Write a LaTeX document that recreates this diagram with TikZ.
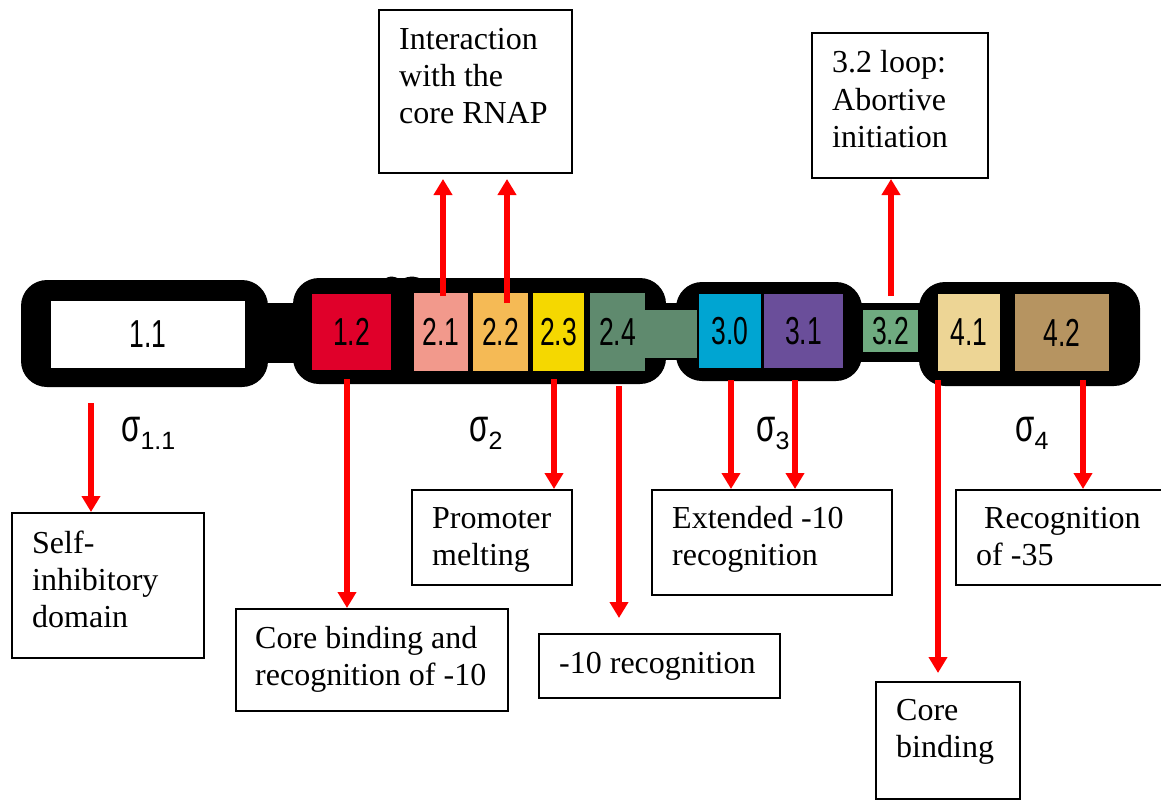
\documentclass[tikz,border=0pt]{standalone}
\usepackage{fontspec}
\usepackage{graphicx}
\setmainfont{Liberation Serif}
\newfontfamily\segfont{Liberation Sans}
\usetikzlibrary{arrows.meta,calc}

% region colours of the sigma factor
\definecolor{cOneTwo}{RGB}{224,0,42}
\definecolor{cTwoOne}{RGB}{242,153,140}
\definecolor{cTwoTwo}{RGB}{245,186,85}
\definecolor{cTwoThree}{RGB}{245,216,0}
\definecolor{cTwoFour}{RGB}{95,138,110}
\definecolor{cThreeZero}{RGB}{0,165,210}
\definecolor{cThreeOne}{RGB}{106,78,154}
\definecolor{cThreeTwo}{RGB}{111,171,128}
\definecolor{cFourOne}{RGB}{237,213,149}
\definecolor{cFourTwo}{RGB}{182,148,97}

% condensed sans label inside a region
\newcommand\seglabel[1]{\scalebox{0.68}[1]{\segfont\fontsize{39}{39}\selectfont #1}}
% sigma domain label with subscript
\newcommand\sigmalab[1]{{\segfont\fontsize{46}{46}\selectfont\scalebox{0.68}[1]{σ}}\raisebox{-8pt}{\segfont\fontsize{25}{25}\selectfont #1}}
% left-aligned stack of lines, baseline on the first line
\newcommand\boxlines[1]{\vtop{\halign{##\hfil\cr#1\crcr}}}

\tikzset{
  seg/.style={inner sep=0pt, outer sep=0pt},
  tbox/.style={draw=black, line width=2pt, anchor=north west, inner sep=0pt, fill=white},
  txt/.style={anchor=base west, inner sep=0pt, font=\fontsize{32}{37}\selectfont},
  redarrow/.style={draw=red, line width=6pt, -{Triangle[width=18pt,length=16pt]}},
}

\begin{document}
\begin{tikzpicture}[x=1pt,y=-1pt]
\useasboundingbox (0,0) rectangle (1161,800);
\clip (0,0) rectangle (1161,800);

% ---- backbone: four rounded domains joined by linkers ----
\fill[black, rounded corners=26pt] (21,280) rectangle (268,387);
\fill[black] (260,303) rectangle (300,363);
\fill[black, rounded corners=26pt] (293,278) rectangle (666,384);
\fill[black] (655,303) rectangle (690,360);
\fill[black, rounded corners=26pt] (676,282) rectangle (862,381);
\fill[black] (855,303) rectangle (925,362);
\fill[black, rounded corners=26pt] (919,282) rectangle (1140,386);
% small bump on top of domain 2
\fill[black] (381,284) .. controls (385,275) and (394,275) .. (401,280)
  .. controls (408,275) and (420,275) .. (427,284) -- cycle;
% linker of region 2.4 running into domain 3
\fill[cTwoFour] (645,310) rectangle (697,358);

% ---- regions ----
\node[seg, fill=white,      minimum width=194pt, minimum height=67pt] (s11) at (148,334.5) {\seglabel{1.1}};
\node[seg, fill=cOneTwo,    minimum width=79pt,  minimum height=76pt] (s12) at (351.5,332) {\seglabel{1.2}};
\node[seg, fill=cTwoOne,    minimum width=54pt,  minimum height=78pt] (s21) at (441,332) {\seglabel{2.1}};
\node[seg, fill=cTwoTwo,    minimum width=55pt,  minimum height=78pt] (s22) at (500.5,332) {\seglabel{2.2}};
\node[seg, fill=cTwoThree,  minimum width=51pt,  minimum height=78pt] (s23) at (558.5,332) {\seglabel{2.3}};
\node[seg, fill=cTwoFour,   minimum width=55pt,  minimum height=78pt] (s24) at (617.5,332) {\seglabel{2.4}};
\node[seg, fill=cThreeZero, minimum width=62pt,  minimum height=74pt] (s30) at (730,331) {\seglabel{3.0}};
\node[seg, fill=cThreeOne,  minimum width=79pt,  minimum height=74pt] (s31) at (803.5,331) {\seglabel{3.1}};
\node[seg, fill=cThreeTwo,  minimum width=55pt,  minimum height=42pt] (s32) at (890.5,331) {\seglabel{3.2}};
\node[seg, fill=cFourOne,   minimum width=62pt,  minimum height=77pt] (s41) at (969,332.5) {\seglabel{4.1}};
\node[seg, fill=cFourTwo,   minimum width=94pt,  minimum height=77pt] (s42) at (1062,332.5) {\seglabel{4.2}};

% ---- domain names ----
\node[anchor=base west, inner sep=0pt] (g11) at (121,441) {\sigmalab{1.1}};
\node[anchor=base west, inner sep=0pt] (g2)  at (469,441) {\sigmalab{2}};
\node[anchor=base west, inner sep=0pt] (g3)  at (756,441) {\sigmalab{3}};
\node[anchor=base west, inner sep=0pt] (g4)  at (1015,441) {\sigmalab{4}};

% ---- function boxes ----
\node[tbox, minimum width=193pt, minimum height=163pt] (bInter) at (378,9) {};
\node[tbox, minimum width=176pt, minimum height=145pt] (bLoop) at (811,32) {};
\node[tbox, minimum width=192pt, minimum height=145pt] (bSelf) at (11,512) {};
\node[tbox, minimum width=272pt, minimum height=102pt] (bCoreTen) at (235,608) {};
\node[tbox, minimum width=160pt, minimum height=95pt]  (bProm) at (411,489) {};
\node[tbox, minimum width=240pt, minimum height=105pt] (bExt) at (651,489) {};
\node[tbox, minimum width=241pt, minimum height=64pt]  (bTen) at (538,633) {};
\node[tbox, minimum width=215pt, minimum height=95pt]  (bFive) at (955,489) {};
\node[tbox, minimum width=144pt, minimum height=117pt] (bCore) at (875,681) {};

\node[txt] (tInter) at (399,49) {\boxlines{Interaction\cr with the\cr core RNAP}};
\node[txt] (tLoop) at (832,73) {\boxlines{3.2 loop:\cr Abortive\cr initiation}};
\node[txt] (tSelf) at (32,553) {\boxlines{Self-\cr inhibitory\cr domain}};
\node[txt] (tCoreTen) at (255,648) {\boxlines{Core binding and\cr recognition of -10}};
\node[txt] (tProm) at (432,528) {\boxlines{Promoter\cr melting}};
\node[txt] (tExt) at (672,528) {\boxlines{Extended -10\cr recognition}};
\node[txt] (tTen) at (559,673) {-10 recognition};
\node[txt] (tFive) at (976,528) {\boxlines{\hspace{8pt}Recognition\cr of -35}};
\node[txt] (tCore) at (896,720) {\boxlines{Core\cr binding}};

% ---- arrow origins on the chain ----
\coordinate (p11) at (91,403);
\coordinate (p12) at (347,379);
\coordinate (p21) at (443,296);
\coordinate (p22) at (507,303);
\coordinate (p23) at (554,379);
\coordinate (p24) at (619,386);
\coordinate (p30) at (731,380);
\coordinate (p31) at (795,380);
\coordinate (p32) at (891,296);
\coordinate (p41) at (938,380);
\coordinate (p42) at (1083,380);

% ---- arrows ----
\draw[redarrow] (p11) -- (bSelf.north -| p11);
\draw[redarrow] (p12) -- (bCoreTen.north -| p12);
\draw[redarrow, shorten >=5pt] (p21) -- (bInter.south -| p21);
\draw[redarrow, shorten >=5pt] (p22) -- (bInter.south -| p22);
\draw[redarrow] (p23) -- (bProm.north -| p23);
\draw[redarrow, shorten >=15pt] (p24) -- (bTen.north -| p24);
\draw[redarrow] (p30) -- (bExt.north -| p30);
\draw[redarrow] (p31) -- (bExt.north -| p31);
\draw[redarrow] (p32) -- (bLoop.south -| p32);
\draw[redarrow, shorten >=8pt] (p41) -- (bCore.north -| p41);
\draw[redarrow] (p42) -- (bFive.north -| p42);
\end{tikzpicture}
\end{document}
